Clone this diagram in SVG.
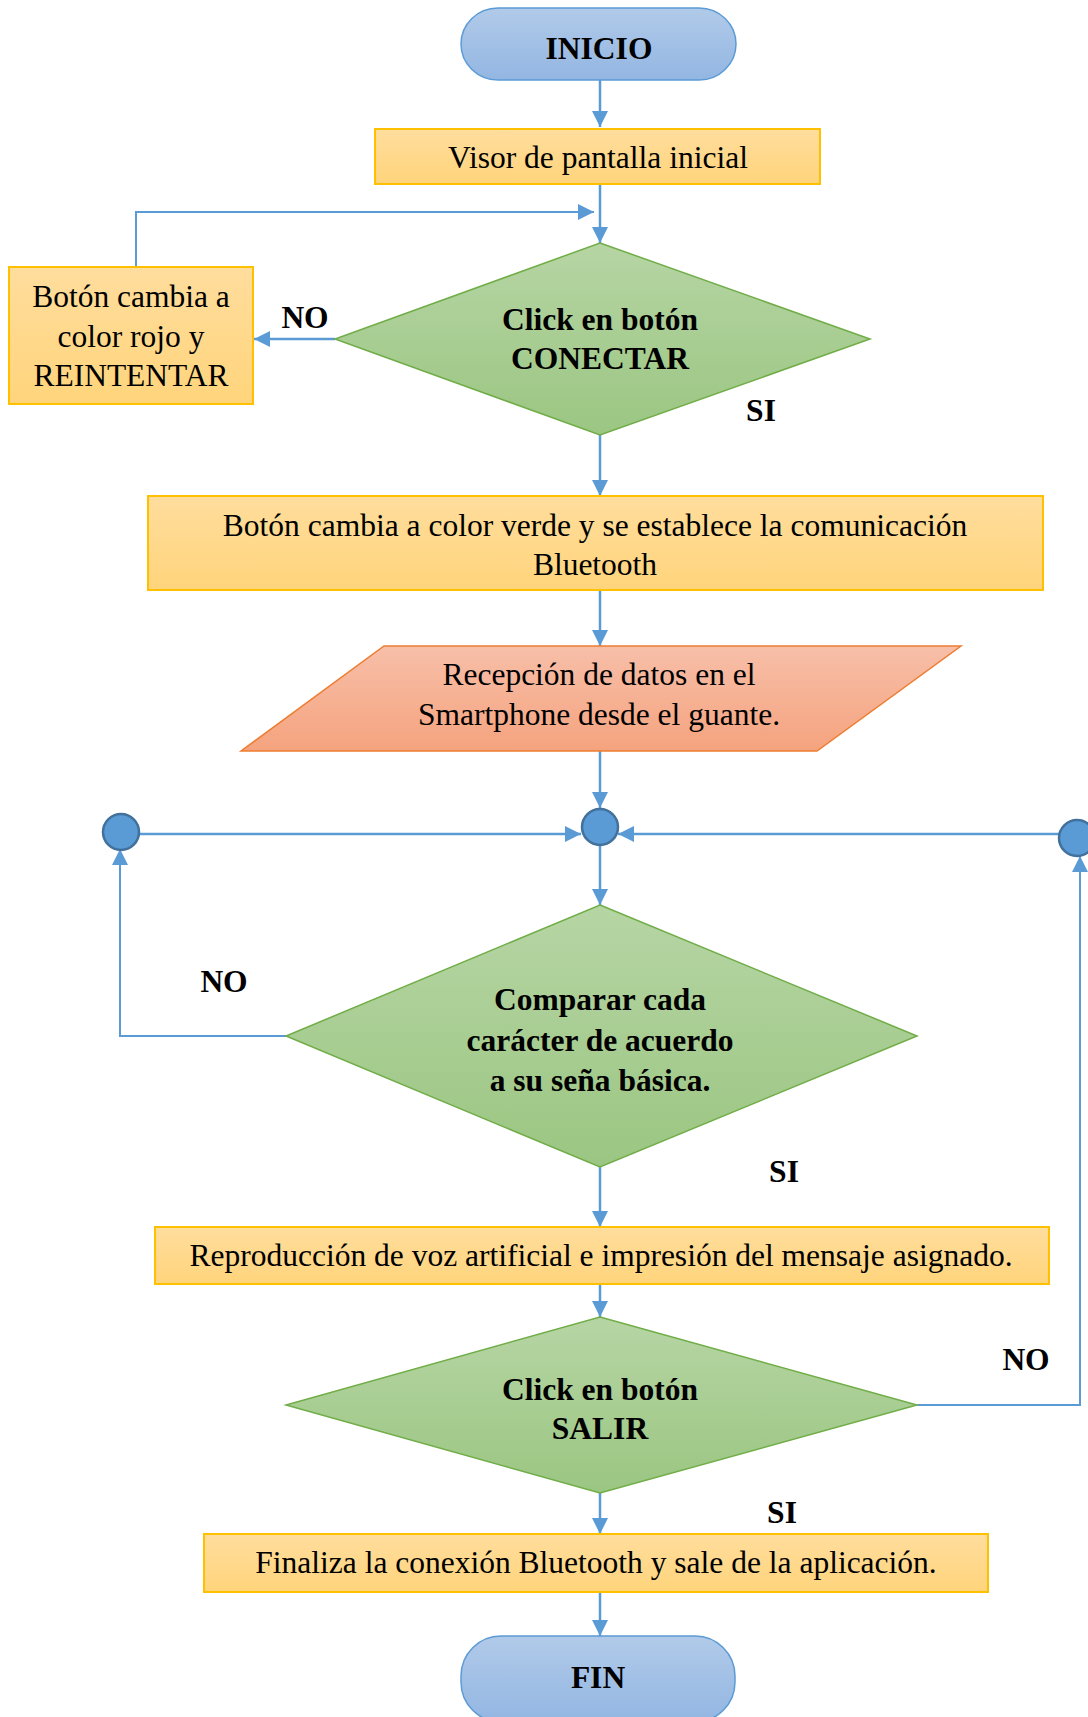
<svg xmlns="http://www.w3.org/2000/svg" width="1088" height="1717" viewBox="0 0 1088 1717">
<defs>
<linearGradient id="gBlue" x1="0" y1="0" x2="0" y2="1"><stop offset="0" stop-color="#b1cae9"/><stop offset="1" stop-color="#93b6e2"/></linearGradient>
<linearGradient id="gYel" x1="0" y1="0" x2="0" y2="1"><stop offset="0" stop-color="#ffdd9d"/><stop offset="1" stop-color="#ffd47b"/></linearGradient>
<linearGradient id="gGrn" x1="0" y1="0" x2="0" y2="1"><stop offset="0" stop-color="#b6d5a4"/><stop offset="1" stop-color="#9bc682"/></linearGradient>
<linearGradient id="gOra" x1="0" y1="0" x2="0" y2="1"><stop offset="0" stop-color="#f7bfa9"/><stop offset="1" stop-color="#f5a37e"/></linearGradient>
<marker id="arr" markerUnits="userSpaceOnUse" markerWidth="16" markerHeight="16" refX="16" refY="8" orient="auto"><path d="M0,0 L16,8 L0,16 z" fill="#5b9bd5"/></marker>
</defs>
<style>
.pill{fill:url(#gBlue);stroke:#5b9bd5;stroke-width:1.5}
.box{fill:url(#gYel);stroke:#ffc000;stroke-width:2}
.dia{fill:url(#gGrn);stroke:#70ad47;stroke-width:1.5}
.par{fill:url(#gOra);stroke:#ed7d31;stroke-width:1.5}
.dot{fill:#5b9bd5;stroke:#41719c;stroke-width:2.5}
.con{fill:none;stroke:#5b9bd5;stroke-width:2.5}
.thin{stroke-width:2}
text{font-family:"Liberation Serif","Times New Roman",serif;font-size:31.5px;fill:#000;text-anchor:middle}
.b{font-weight:bold}
</style>
<g id="connectors">
<path class="con" d="M600,80 V127" marker-end="url(#arr)"/>
<path class="con" d="M600,185 V243" marker-end="url(#arr)"/>
<path class="con thin" d="M136,267 V212 H594" marker-end="url(#arr)"/>
<path class="con" d="M335,339 H254" marker-end="url(#arr)"/>
<path class="con" d="M600,435 V496" marker-end="url(#arr)"/>
<path class="con" d="M600,590 V646" marker-end="url(#arr)"/>
<path class="con" d="M600,751 V808" marker-end="url(#arr)"/>
<path class="con" d="M139,834 H581" marker-end="url(#arr)"/>
<path class="con" d="M1059,834 H618" marker-end="url(#arr)"/>
<path class="con" d="M600,845 V905" marker-end="url(#arr)"/>
<path class="con thin" d="M286,1036 H120 V849" marker-end="url(#arr)"/>
<path class="con" d="M600,1167 V1227" marker-end="url(#arr)"/>
<path class="con" d="M600,1284 V1317" marker-end="url(#arr)"/>
<path class="con thin" d="M917,1405 H1080 V856" marker-end="url(#arr)"/>
<path class="con" d="M600,1493 V1534" marker-end="url(#arr)"/>
<path class="con" d="M600,1592 V1636" marker-end="url(#arr)"/>
</g>
<g id="inicio"><rect class="pill" x="461" y="8" width="275" height="72" rx="37" ry="36"/><text class="b" x="599" y="59">INICIO</text></g>
<g id="visor"><rect class="box" x="375" y="129" width="445" height="55"/><text x="598" y="168">Visor de pantalla inicial</text></g>
<g id="decision1"><polygon class="dia" points="600,243 870,339 600,435 335,339"/><text class="b" x="600" y="330">Click en botón</text><text class="b" x="600" y="369">CONECTAR</text></g>
<g id="reintentar"><rect class="box" x="9" y="267" width="244" height="137"/><text x="131" y="307">Botón cambia a</text><text x="131" y="347">color rojo y</text><text x="131" y="386">REINTENTAR</text></g>
<g id="label-no1"><text class="b" x="305" y="328">NO</text></g>
<g id="label-si1"><text class="b" x="761" y="421">SI</text></g>
<g id="conexion"><rect class="box" x="148" y="496" width="895" height="94"/><text x="595" y="536">Botón cambia a color verde y se establece la comunicación</text><text x="595" y="575">Bluetooth</text></g>
<g id="recepcion"><polygon class="par" points="384,646 961,646 817,751 241,751"/><text x="599" y="685">Recepción de datos en el</text><text x="599" y="725">Smartphone desde el guante.</text></g>
<g id="nodo-izq"><circle class="dot" cx="121" cy="832" r="18"/></g>
<g id="nodo-centro"><circle class="dot" cx="600" cy="827" r="18"/></g>
<g id="nodo-der"><circle class="dot" cx="1077" cy="838" r="18"/></g>
<g id="decision2"><polygon class="dia" points="600,905 917,1036 600,1167 286,1036"/><text class="b" x="600" y="1010">Comparar cada</text><text class="b" x="600" y="1051">carácter de acuerdo</text><text class="b" x="600" y="1091">a su seña básica.</text></g>
<g id="label-no2"><text class="b" x="224" y="992">NO</text></g>
<g id="label-si2"><text class="b" x="784" y="1182">SI</text></g>
<g id="reproduccion"><rect class="box" x="155" y="1227" width="894" height="57"/><text x="601" y="1266">Reproducción de voz artificial e impresión del mensaje asignado.</text></g>
<g id="decision3"><polygon class="dia" points="600,1317 917,1405 600,1493 286,1405"/><text class="b" x="600" y="1400">Click en botón</text><text class="b" x="600" y="1439">SALIR</text></g>
<g id="label-no3"><text class="b" x="1026" y="1370">NO</text></g>
<g id="label-si3"><text class="b" x="782" y="1523">SI</text></g>
<g id="finaliza"><rect class="box" x="204" y="1534" width="784" height="58"/><text x="596" y="1573">Finaliza la conexión Bluetooth y sale de la aplicación.</text></g>
<g id="fin"><rect class="pill" x="461" y="1636" width="274" height="86" rx="40" ry="40"/><text class="b" x="598" y="1688">FIN</text></g>
</svg>
